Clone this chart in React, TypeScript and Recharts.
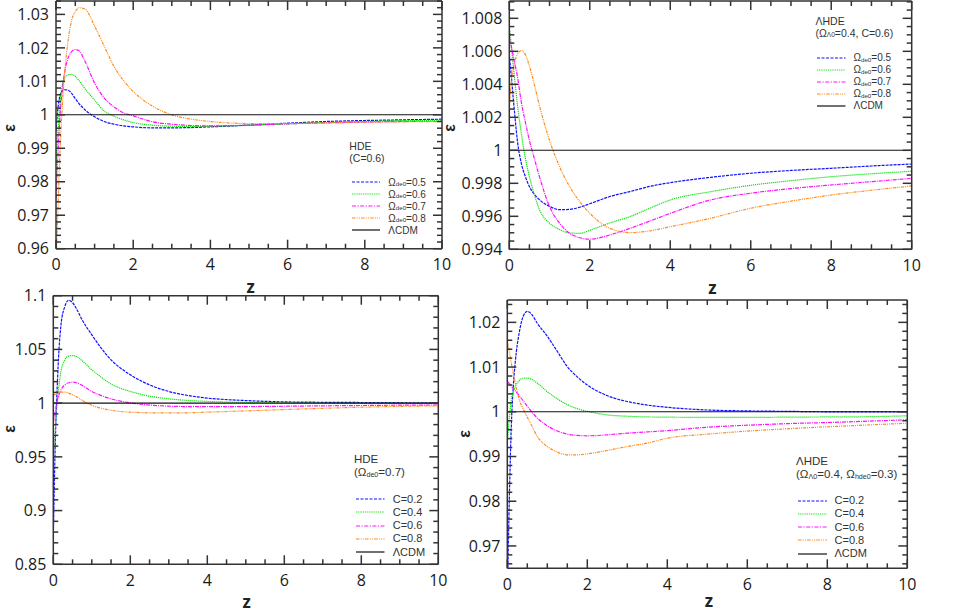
import React from 'react';
import { LineChart, Line, XAxis, YAxis, ReferenceLine } from 'recharts';

const FONT = '"Open Sans", "Noto Sans", sans-serif';
const LEG_FONT = '"Liberation Sans", Arial, sans-serif';
const INK = '#333';

// redshift samples shared by every curve
const zGrid = [0, 0.05, 0.1, 0.15, 0.2, 0.3, 0.4, 0.5, 0.6, 0.75, 1, 1.25, 1.5, 1.75, 2, 2.5, 3, 3.5, 4, 5, 6, 7, 8, 9, 10];
const lcdm = [1, 1, 1, 1, 1, 1, 1, 1, 1, 1, 1, 1, 1, 1, 1, 1, 1, 1, 1, 1, 1, 1, 1, 1, 1];
const zMajorTicks = [0, 2, 4, 6, 8, 10];

// (a) HDE, C=0.6
const hdeOm05 = [0.995, 1.002, 1.0055, 1.007, 1.0075, 1.0074, 1.0065, 1.0048, 1.0033, 1.0015, 0.9994, 0.998, 0.9972, 0.9967, 0.9964, 0.9961, 0.9961, 0.9962, 0.9964, 0.9969, 0.9975, 0.998, 0.9983, 0.9985, 0.9987];
const hdeOm06 = [0.985, 0.995, 1.003, 1.008, 1.0105, 1.0119, 1.0121, 1.0115, 1.0102, 1.0078, 1.0044, 1.0011, 0.9996, 0.9985, 0.9977, 0.9969, 0.9966, 0.9965, 0.9966, 0.9969, 0.9973, 0.9977, 0.998, 0.9982, 0.9984];
const hdeOm07 = [0.975, 0.988, 0.999, 1.006, 1.011, 1.0165, 1.0188, 1.0195, 1.0191, 1.016, 1.0095, 1.005, 1.0024, 1.0006, 0.9997, 0.9979, 0.9972, 0.9968, 0.9967, 0.9969, 0.9973, 0.9976, 0.9978, 0.998, 0.998];
const hdeOm08 = [0.955, 0.972, 0.988, 1.0, 1.009, 1.021, 1.028, 1.0308, 1.032, 1.0316, 1.0265, 1.0205, 1.0145, 1.0102, 1.007, 1.0026, 1.0, 0.9987, 0.998, 0.9974, 0.9974, 0.9976, 0.9978, 0.9979, 0.998];

// (b) ΛHDE, Ω_Λ0=0.4, C=0.6
const lhdeOm05 = [1.0058, 1.0045, 1.0031, 1.0018, 1.0006, 0.9992, 0.9984, 0.9978, 0.9974, 0.997, 0.9966, 0.9964, 0.99642, 0.99655, 0.99676, 0.9972, 0.9975, 0.99782, 0.99804, 0.99836, 0.99861, 0.99878, 0.99891, 0.99905, 0.99917];
const lhdeOm06 = [1.0076, 1.0063, 1.0051, 1.0039, 1.0028, 1.001, 0.9995, 0.9984, 0.9975, 0.9964, 0.99558, 0.9952, 0.99499, 0.99497, 0.99515, 0.9956, 0.99598, 0.9965, 0.99699, 0.99749, 0.99788, 0.99816, 0.9984, 0.99858, 0.99873];
const lhdeOm07 = [1.0068, 1.0063, 1.0057, 1.0051, 1.0045, 1.0029, 1.0017, 1.0006, 0.9997, 0.9984, 0.99659, 0.99558, 0.99497, 0.9947, 0.99461, 0.99487, 0.99527, 0.99572, 0.99618, 0.99699, 0.9974, 0.99768, 0.9979, 0.9981, 0.9983];
const lhdeOm08 = [1.0026, 1.0042, 1.005, 1.0055, 1.0058, 1.00605, 1.0058, 1.0051, 1.0042, 1.0027, 1.0006, 0.999, 0.9978, 0.99689, 0.99618, 0.99527, 0.99501, 0.99512, 0.99537, 0.99588, 0.99649, 0.99692, 0.99729, 0.99758, 0.99784];

// (c) HDE, Ω_de0=0.7
const hdeC02 = [0.875, 0.961, 1.014, 1.051, 1.073, 1.09, 1.0958, 1.0935, 1.088, 1.0775, 1.0636, 1.051, 1.0403, 1.0325, 1.0264, 1.017, 1.0109, 1.0071, 1.0047, 1.0024, 1.0012, 1.0008, 1.0006, 1.0004, 1.0003];
const hdeC04 = [0.945, 0.975, 1.0, 1.017, 1.0295, 1.0403, 1.0438, 1.0443, 1.0435, 1.0395, 1.031, 1.024, 1.0177, 1.0138, 1.0109, 1.0065, 1.004, 1.0025, 1.0016, 1.0006, 1.0001, 0.9999, 0.9998, 0.9998, 0.9998];
const hdeC06 = [0.982, 0.992, 1.002, 1.008, 1.0124, 1.017, 1.019, 1.0195, 1.019, 1.0165, 1.0109, 1.007, 1.004, 1.0018, 1.0003, 0.9982, 0.9972, 0.9968, 0.9967, 0.9968, 0.9971, 0.9975, 0.9978, 0.9981, 0.9983];
const hdeC08 = [1.007, 1.0082, 1.0092, 1.0099, 1.0102, 1.0102, 1.0093, 1.0078, 1.006, 1.0025, 0.998, 0.9952, 0.9934, 0.9922, 0.9916, 0.991, 0.9909, 0.991, 0.9916, 0.9928, 0.994, 0.9952, 0.9962, 0.997, 0.9975];

// (d) ΛHDE, Ω_Λ0=0.4, Ω_hde0=0.3
const lhdeC02 = [0.958, 0.9803, 0.9967, 1.0057, 1.0112, 1.0178, 1.0214, 1.02245, 1.0219, 1.0198, 1.0169, 1.0135, 1.0101, 1.0078, 1.006, 1.0036, 1.0023, 1.0015, 1.001, 1.0004, 1.0002, 1.0001, 1.0, 1.0, 1.0];
const lhdeC04 = [0.9935, 0.9985, 1.0027, 1.0045, 1.0057, 1.007, 1.0075, 1.00755, 1.0073, 1.0064, 1.0045, 1.0029, 1.0016, 1.0007, 1.0001, 0.9993, 0.999, 0.99885, 0.9988, 0.99875, 0.99875, 0.9988, 0.99885, 0.9989, 0.9991];
const lhdeC06 = [1.0068, 1.0063, 1.0057, 1.0052, 1.0047, 1.0036, 1.0024, 1.0012, 1.0001, 0.99858, 0.99687, 0.9957, 0.995, 0.99472, 0.99463, 0.99485, 0.99522, 0.9955, 0.9958, 0.99655, 0.997, 0.99735, 0.9976, 0.9979, 0.9982];
const lhdeC08 = [1.0161, 1.0135, 1.0109, 1.0086, 1.0064, 1.0027, 1.0006, 0.9988, 0.9971, 0.99448, 0.99224, 0.991, 0.99038, 0.99038, 0.9906, 0.99135, 0.99224, 0.993, 0.9941, 0.995, 0.99568, 0.9962, 0.99665, 0.99705, 0.99745];

const omegaValues = ['0.5', '0.6', '0.7', '0.8'];
const cValues = ['0.2', '0.4', '0.6', '0.8'];

const yTicksA = [0.96, 0.97, 0.98, 0.99, 1, 1.01, 1.02, 1.03];
const yTicksB = [0.994, 0.996, 0.998, 1, 1.002, 1.004, 1.006, 1.008];
const yTicksC = [0.85, 0.9, 0.95, 1, 1.05, 1.1];
const yTicksD = [0.97, 0.98, 0.99, 1, 1.01, 1.02];

// curve dashes are tighter than the legend samples, like the original plot
const seriesStyles = [
  { stroke: '#1010ff', dash: '3 1', legDash: '3 1.5' },
  { stroke: '#10e010', dash: '1.2 0.8', legDash: '1.2 1' },
  { stroke: '#ff10ff', dash: '4 1 1 1', legDash: '4 1.5 1.2 1.5' },
  { stroke: '#ff8a1a', dash: '3 1 1 1 1 1', legDash: '3.5 1.2 1 1.2 1 1.2' },
];

const Sub = ({ children }: { children: React.ReactNode }) => (
  <span style={{ fontSize: '0.62em', position: 'relative', top: '0.12em' }}>{children}</span>
);

const fmt = (v: number) => String(Number(v.toFixed(4)));

const steps = (a: number, b: number, step: number) => {
  const out: number[] = [];
  const i0 = Math.ceil(a / step - 1e-6);
  const i1 = Math.floor(b / step + 1e-6);
  for (let i = i0; i <= i1; i++) out.push(Number((i * step).toFixed(6)));
  return out;
};

const isIn = (list: number[], v: number) => list.some((m) => Math.abs(m - v) < 1e-7);

const panels = [
  {
    key: 'a',
    box: { left: 0, top: 0, width: 470, height: 300 },
    plot: { left: 56, right: 442, top: 1, bottom: 248.7 },
    yDomain: [0.96, 1.034],
    yTicks: yTicksA,
    yMinor: 0.002,
    series: [hdeOm05, hdeOm06, hdeOm07, hdeOm08],
    kind: 'omega',
    values: omegaValues,
    title: 'HDE',
    subtitle: <>(C=0.6)</>,
    leg: { x: 349.3, titleY: 146, subY: 158, l1: 351.7, l2: 380, tx: 388.3, row0: 182, step: 12, fs: 10 },
    eps: { x: 9.5, y: 128 },
    zl: { x: 250.7, y: 288 },
  },
  {
    key: 'b',
    box: { left: 440, top: 0, width: 500, height: 300 },
    plot: { left: 509.3, right: 911.7, top: 1, bottom: 249.3 },
    yDomain: [0.994, 1.00905],
    yTicks: yTicksB,
    yMinor: 0.0005,
    series: [lhdeOm05, lhdeOm06, lhdeOm07, lhdeOm08],
    kind: 'omega',
    values: omegaValues,
    title: 'ΛHDE',
    subtitle: <>(Ω<Sub>Λ0</Sub>=0.4, C=0.6)</>,
    leg: { x: 815.5, titleY: 21, subY: 33, l1: 817, l2: 845.5, tx: 853.5, row0: 57.5, step: 12, fs: 10 },
    eps: { x: 449.6, y: 128 },
    zl: { x: 712.3, y: 289.2 },
  },
  {
    key: 'c',
    box: { left: 0, top: 285, width: 470, height: 328 },
    plot: { left: 53.3, right: 438.3, top: 295.7, bottom: 564.3 },
    yDomain: [0.85, 1.1],
    yTicks: yTicksC,
    yMinor: 0.01,
    series: [hdeC02, hdeC04, hdeC06, hdeC08],
    kind: 'c',
    values: cValues,
    title: 'HDE',
    subtitle: <>(Ω<Sub>de0</Sub>=0.7)</>,
    leg: { x: 354, titleY: 459.3, subY: 472.7, l1: 356, l2: 384.5, tx: 392.7, row0: 499, step: 13.25, fs: 11 },
    eps: { x: 9.5, y: 429 },
    zl: { x: 246.7, y: 603.3 },
  },
  {
    key: 'd',
    box: { left: 455, top: 285, width: 500, height: 328 },
    plot: { left: 507.3, right: 907.3, top: 300, bottom: 568.3 },
    yDomain: [0.965, 1.025],
    yTicks: yTicksD,
    yMinor: 0.002,
    series: [lhdeC02, lhdeC04, lhdeC06, lhdeC08],
    kind: 'c',
    values: cValues,
    title: 'ΛHDE',
    subtitle: <>(Ω<Sub>Λ0</Sub>=0.4, Ω<Sub>hde0</Sub>=0.3)</>,
    leg: { x: 796, titleY: 461.5, subY: 474.7, l1: 797.5, l2: 826.8, tx: 834.5, row0: 500.7, step: 13.2, fs: 11 },
    eps: { x: 464.6, y: 434 },
    zl: { x: 709, y: 602.3 },
  },
];

type Geo = { left: number; right: number; top: number; bottom: number };

const XTick = (props: any) => {
  const { x, payload, geo } = props as { x: number; payload: { value: number }; geo: Geo };
  const major = isIn(zMajorTicks, payload.value);
  const len = major ? 9 : 5;
  return (
    <g>
      <line x1={x} x2={x} y1={geo.bottom} y2={geo.bottom - len} stroke={INK} strokeWidth={1.5} />
      <line x1={x} x2={x} y1={geo.top} y2={geo.top + len} stroke={INK} strokeWidth={1.5} />
      {major && (
        <text x={x} y={geo.bottom + 21.7} textAnchor="middle" fontSize={16} fill="#1a1a1a" fontFamily={FONT}>
          {fmt(payload.value)}
        </text>
      )}
    </g>
  );
};

const YTick = (props: any) => {
  const { y, payload, geo, majors } = props as { y: number; payload: { value: number }; geo: Geo; majors: number[] };
  const major = isIn(majors, payload.value);
  const len = major ? 9 : 5;
  return (
    <g>
      <line x1={geo.left} x2={geo.left + len} y1={y} y2={y} stroke={INK} strokeWidth={1.5} />
      <line x1={geo.right} x2={geo.right - len} y1={y} y2={y} stroke={INK} strokeWidth={1.5} />
      {major && (
        <text x={geo.left - 7} y={y} dy="0.355em" textAnchor="end" fontSize={16} fill="#1a1a1a" fontFamily={FONT}>
          {fmt(payload.value)}
        </text>
      )}
    </g>
  );
};

const seriesLabel = (kind: string, v: string) =>
  kind === 'omega' ? <>Ω<Sub>de0</Sub>={v}</> : <>C={v}</>;

function Panel({ p }: { p: (typeof panels)[number] }) {
  const rows = zGrid.map((z, i) => {
    const r: Record<string, number> = { z, lcdm: lcdm[i] };
    p.series.forEach((s, k) => (r['s' + k] = s[i]));
    return r;
  });
  const geo: Geo = {
    left: p.plot.left - p.box.left,
    right: p.plot.right - p.box.left,
    top: p.plot.top - p.box.top,
    bottom: p.plot.bottom - p.box.top,
  };
  const margin = { top: geo.top, right: p.box.width - geo.right, bottom: 0, left: 0 };
  const yTickAll = steps(p.yDomain[0], p.yDomain[1], p.yMinor);
  const zTickAll = steps(0, 10, 0.5);

  return (
    <div style={{ position: 'absolute', left: p.box.left, top: p.box.top }}>
      <LineChart width={p.box.width} height={p.box.height} data={rows} margin={margin}>
        <XAxis
          dataKey="z"
          type="number"
          domain={[0, 10]}
          ticks={zTickAll}
          interval={0}
          allowDataOverflow
          axisLine={false}
          tickLine={false}
          height={p.box.height - geo.bottom}
          tick={<XTick geo={geo} />}
        />
        <YAxis
          type="number"
          domain={p.yDomain}
          ticks={yTickAll}
          interval={0}
          allowDataOverflow
          axisLine={false}
          tickLine={false}
          width={geo.left}
          tick={<YTick geo={geo} majors={p.yTicks} />}
        />
        {p.series.map((_, k) => (
          <Line
            key={k}
            dataKey={'s' + k}
            type="monotone"
            stroke={seriesStyles[k].stroke}
            strokeDasharray={seriesStyles[k].dash}
            strokeWidth={1.2}
            dot={false}
            activeDot={false}
            isAnimationActive={false}
          />
        ))}
        <Line dataKey="lcdm" type="linear" stroke="#111" strokeWidth={1.1} dot={false} activeDot={false} isAnimationActive={false} />
        <ReferenceLine x={0} stroke={INK} strokeWidth={1.5} ifOverflow="visible" />
        <ReferenceLine x={10} stroke={INK} strokeWidth={1.5} ifOverflow="visible" />
        <ReferenceLine y={p.yDomain[0]} stroke={INK} strokeWidth={1.5} ifOverflow="visible" />
        <ReferenceLine y={p.yDomain[1]} stroke={INK} strokeWidth={1.5} ifOverflow="visible" />
      </LineChart>
    </div>
  );
}

function PanelText({ p }: { p: (typeof panels)[number] }) {
  const { leg } = p;
  const lh = 11;
  const labels = [...p.values.map((v) => seriesLabel(p.kind, v)), <>ΛCDM</>];
  const styles = [...seriesStyles.map((s) => ({ stroke: s.stroke, dash: s.legDash })), { stroke: '#111', dash: '' }];
  const tfs = leg.fs + 0.5;
  const base: React.CSSProperties = { position: 'absolute', lineHeight: `${lh}px`, color: '#333', whiteSpace: 'nowrap', fontFamily: LEG_FONT };
  return (
    <>
      <div style={{ ...base, left: leg.x, top: leg.titleY - lh / 2, fontSize: tfs }}>{p.title}</div>
      <div style={{ ...base, left: leg.x, top: leg.subY - lh / 2, fontSize: tfs }}>{p.subtitle}</div>
      {labels.map((lab, i) => {
        const cy = leg.row0 + i * leg.step;
        return (
          <React.Fragment key={i}>
            <svg style={{ position: 'absolute', left: leg.l1, top: cy - 3 }} width={leg.l2 - leg.l1} height={6}>
              <line x1={0} x2={leg.l2 - leg.l1} y1={3} y2={3} stroke={styles[i].stroke} strokeWidth={1.2} strokeDasharray={styles[i].dash || undefined} />
            </svg>
            <div style={{ ...base, left: leg.tx, top: cy - lh / 2, fontSize: leg.fs }}>{lab}</div>
          </React.Fragment>
        );
      })}
      <div style={{ position: 'absolute', left: p.eps.x - 6, top: p.eps.y - 6, width: 12, height: 12, lineHeight: '12px', textAlign: 'center', fontFamily: LEG_FONT, fontSize: 16, fontWeight: 700, color: '#222', transform: 'rotate(-90deg)' }}>
        ε
      </div>
      <div style={{ position: 'absolute', left: p.zl.x - 10, top: p.zl.y - 1.5 - 10, width: 20, height: 20, lineHeight: '20px', textAlign: 'center', fontSize: 17, fontWeight: 700, color: '#222' }}>
        z
      </div>
    </>
  );
}

export default function App() {
  return (
    <div style={{ position: 'absolute', left: 0, top: 0, width: 970, height: 613, background: '#fff', fontFamily: FONT, overflow: 'hidden' }}>
      {panels.map((p) => (
        <Panel key={p.key} p={p} />
      ))}
      {panels.map((p) => (
        <PanelText key={p.key + 't'} p={p} />
      ))}
    </div>
  );
}
